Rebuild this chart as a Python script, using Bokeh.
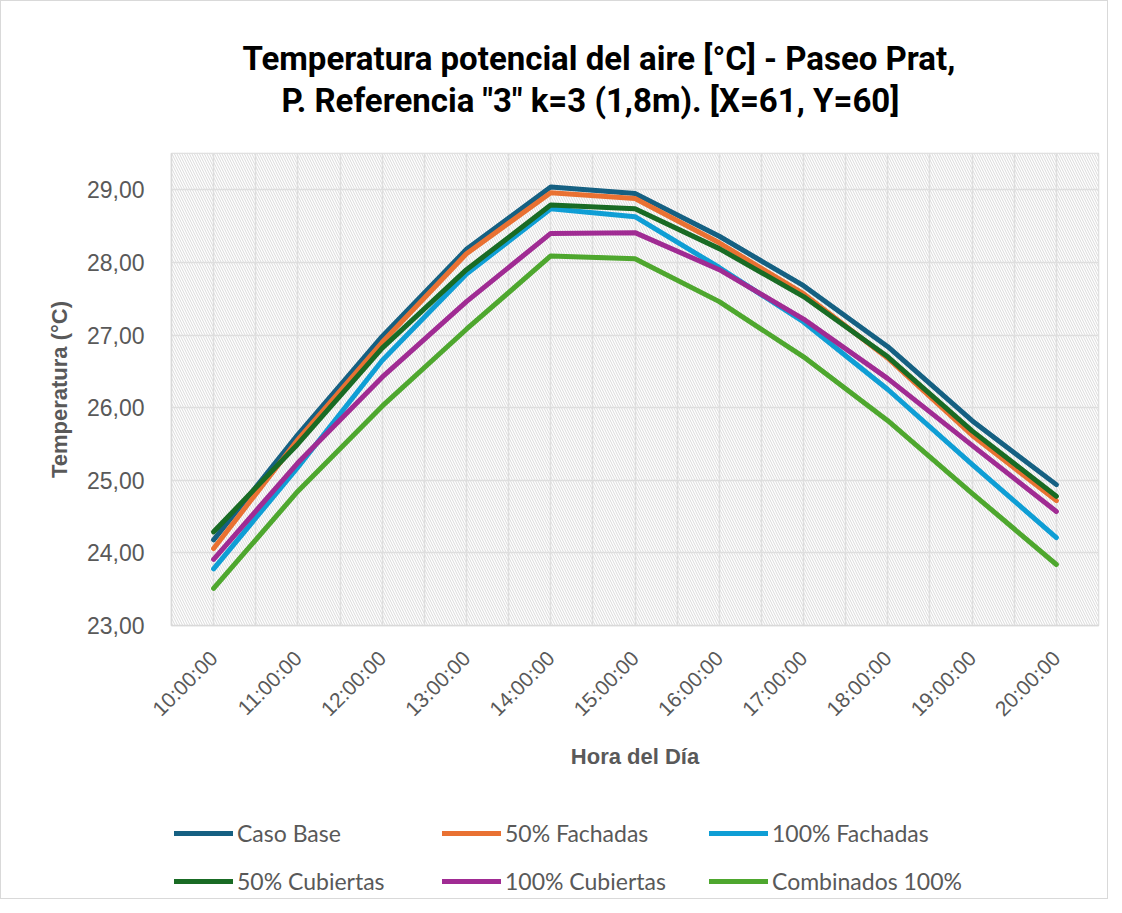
import math
from bokeh.plotting import figure
from bokeh.layouts import column
from bokeh.models import (Range1d, FixedTicker, BoxAnnotation, Legend, LegendItem, Title)
from bokeh.embed import file_html
from bokeh.resources import INLINE

hours = ["10:00:00", "11:00:00", "12:00:00", "13:00:00", "14:00:00", "15:00:00",
         "16:00:00", "17:00:00", "18:00:00", "19:00:00", "20:00:00"]
caso_base = [24.18, 25.63, 26.98, 28.18, 29.04, 28.95, 28.36, 27.68, 26.84, 25.82, 24.94]
fachadas_50 = [24.06, 25.56, 26.90, 28.12, 28.96, 28.88, 28.27, 27.57, 26.68, 25.62, 24.72]
fachadas_100 = [23.78, 25.18, 26.65, 27.84, 28.74, 28.63, 27.93, 27.18, 26.25, 25.22, 24.21]
cubiertas_50 = [24.29, 25.50, 26.82, 27.90, 28.79, 28.74, 28.19, 27.53, 26.70, 25.68, 24.78]
cubiertas_100 = [23.91, 25.24, 26.42, 27.46, 28.40, 28.41, 27.90, 27.22, 26.40, 25.48, 24.57]
combinados_100 = [23.51, 24.85, 26.02, 27.08, 28.09, 28.05, 27.46, 26.70, 25.82, 24.82, 23.84]

series_names = ["Caso Base", "50% Fachadas", "100% Fachadas",
                "50% Cubiertas", "100% Cubiertas", "Combinados 100%"]
series_values = [caso_base, fachadas_50, fachadas_100, cubiertas_50, cubiertas_100, combinados_100]
series_colors = ["#156082", "#E97132", "#0F9ED5", "#196B24", "#A02B93", "#4EA72E"]

y_ticks = [23, 24, 25, 26, 27, 28, 29]
y_tick_labels = ["23,00", "24,00", "25,00", "26,00", "27,00", "28,00", "29,00"]

GREY = "#595959"
W = 1106
H_MAIN = 800
H_LEG = 97

p = figure(width=W, height=H_MAIN, output_backend="svg", toolbar_location=None,
           x_range=Range1d(-0.5, len(hours) - 0.5), y_range=Range1d(23, 29.5),
           min_border_left=170, min_border_right=9, min_border_top=152,
           min_border_bottom=H_MAIN - 624)
p.background_fill_color = "white"
p.border_fill_color = "white"
p.outline_line_color = "#d9d9d9"
p.outline_line_width = 1.5

# hatched plot-area background
bg = BoxAnnotation(fill_color="white", fill_alpha=1.0, line_color=None,
                   hatch_pattern="\\", hatch_color="#cfcfcf", hatch_scale=5,
                   hatch_weight=1, hatch_alpha=0.8, level="image")
p.add_layout(bg)

xs = list(range(len(hours)))
renderers = []
for name, vals, col in zip(series_names, series_values, series_colors):
    r = p.line(xs, vals, line_color=col, line_width=5, line_cap="round", line_join="round")
    renderers.append(r)

# axes
p.xaxis.ticker = FixedTicker(ticks=xs)
p.xaxis.major_label_overrides = {i: h for i, h in enumerate(hours)}
p.xaxis.major_label_orientation = math.pi / 4
p.xaxis.major_label_text_font = "Liberation Sans"
p.xaxis.major_label_text_font_size = "21px"
p.xaxis.major_label_text_color = GREY
p.xaxis.major_tick_line_color = None
p.xaxis.minor_tick_line_color = None
p.xaxis.major_tick_out = 0
p.xaxis.major_label_standoff = 29
p.xaxis.axis_line_color = "#d9d9d9"
p.xaxis.axis_line_width = 1.5
p.xaxis.axis_label = "Hora del Día"
p.xaxis.axis_label_text_font = "Liberation Sans"
p.xaxis.axis_label_text_font_style = "bold"
p.xaxis.axis_label_text_font_size = "22px"
p.xaxis.axis_label_text_color = GREY
p.xaxis.axis_label_standoff = 12

p.yaxis.ticker = FixedTicker(ticks=y_ticks)
p.yaxis.major_label_overrides = {t: l for t, l in zip(y_ticks, y_tick_labels)}
p.yaxis.major_label_text_font = "Liberation Sans"
p.yaxis.major_label_text_font_size = "23px"
p.yaxis.major_label_text_color = GREY
p.yaxis.major_tick_line_color = None
p.yaxis.minor_tick_line_color = None
p.yaxis.major_tick_out = 0
p.yaxis.major_label_standoff = 27
p.yaxis.axis_line_color = "#d9d9d9"
p.yaxis.axis_line_width = 1.5
p.yaxis.axis_label = "Temperatura (°C)"
p.yaxis.axis_label_text_font = "Liberation Sans"
p.yaxis.axis_label_text_font_style = "bold"
p.yaxis.axis_label_text_font_size = "22px"
p.yaxis.axis_label_text_color = GREY
p.yaxis.axis_label_standoff = 12

# grids
p.xgrid.ticker = FixedTicker(ticks=[i * 0.5 for i in range(-1, 2 * len(hours))])
p.xgrid.grid_line_color = "#dedede"
p.xgrid.grid_line_width = 1.5
p.ygrid.ticker = FixedTicker(ticks=y_ticks)
p.ygrid.grid_line_color = "#dedede"
p.ygrid.grid_line_width = 1.5

# titles (added from the frame outwards)
p.title = None
spacer = Title(text=" ", text_font_size="24px", standoff=4)
t2 = Title(text='P. Referencia "3" k=3 (1,8m). [X=61, Y=60]', align="left", offset=110,
           text_font="Roboto", text_font_style="bold", text_font_size="33px",
           text_color="black", standoff=2)
t1 = Title(text="Temperatura potencial del aire [°C] - Paseo Prat,", align="left", offset=71,
           text_font="Roboto", text_font_style="bold", text_font_size="33px",
           text_color="black", standoff=0)
p.add_layout(spacer, "above")
p.add_layout(t2, "above")
p.add_layout(t1, "above")

# legend figure below the chart (frame is aligned with the chart's frame);
# its lines reuse the series data but sit outside the visible range
lf = figure(width=W, height=H_LEG, output_backend="svg", toolbar_location=None,
            x_axis_type=None, y_axis_type=None, min_border=0,
            x_range=Range1d(-100, -99), y_range=Range1d(0, 1))
lf.outline_line_color = None
lf.xgrid.visible = False
lf.ygrid.visible = False
leg_renderers = [lf.line(xs, vals, line_color=c, line_width=5, line_cap="round")
                 for vals, c in zip(series_values, series_colors)]
col_groups = [[0, 3], [1, 4], [2, 5]]
col_offsets = [3, 271, 538]
for grp, xoff in zip(col_groups, col_offsets):
    items = [LegendItem(label=series_names[i], renderers=[leg_renderers[i]]) for i in grp]
    lg = Legend(items=items, orientation="vertical", location=(xoff, 3),
                label_text_font="Lato", label_text_font_size="23px", label_text_color=GREY,
                glyph_width=59, glyph_height=20, label_standoff=4, spacing=20,
                padding=0, margin=0, border_line_color=None, background_fill_alpha=0)
    lf.add_layout(lg, "center")

layout = column(p, lf, spacing=0,
                styles={"border": "1.5px solid #d9d9d9"})

open("out.html", "w").write(file_html(layout, INLINE))
